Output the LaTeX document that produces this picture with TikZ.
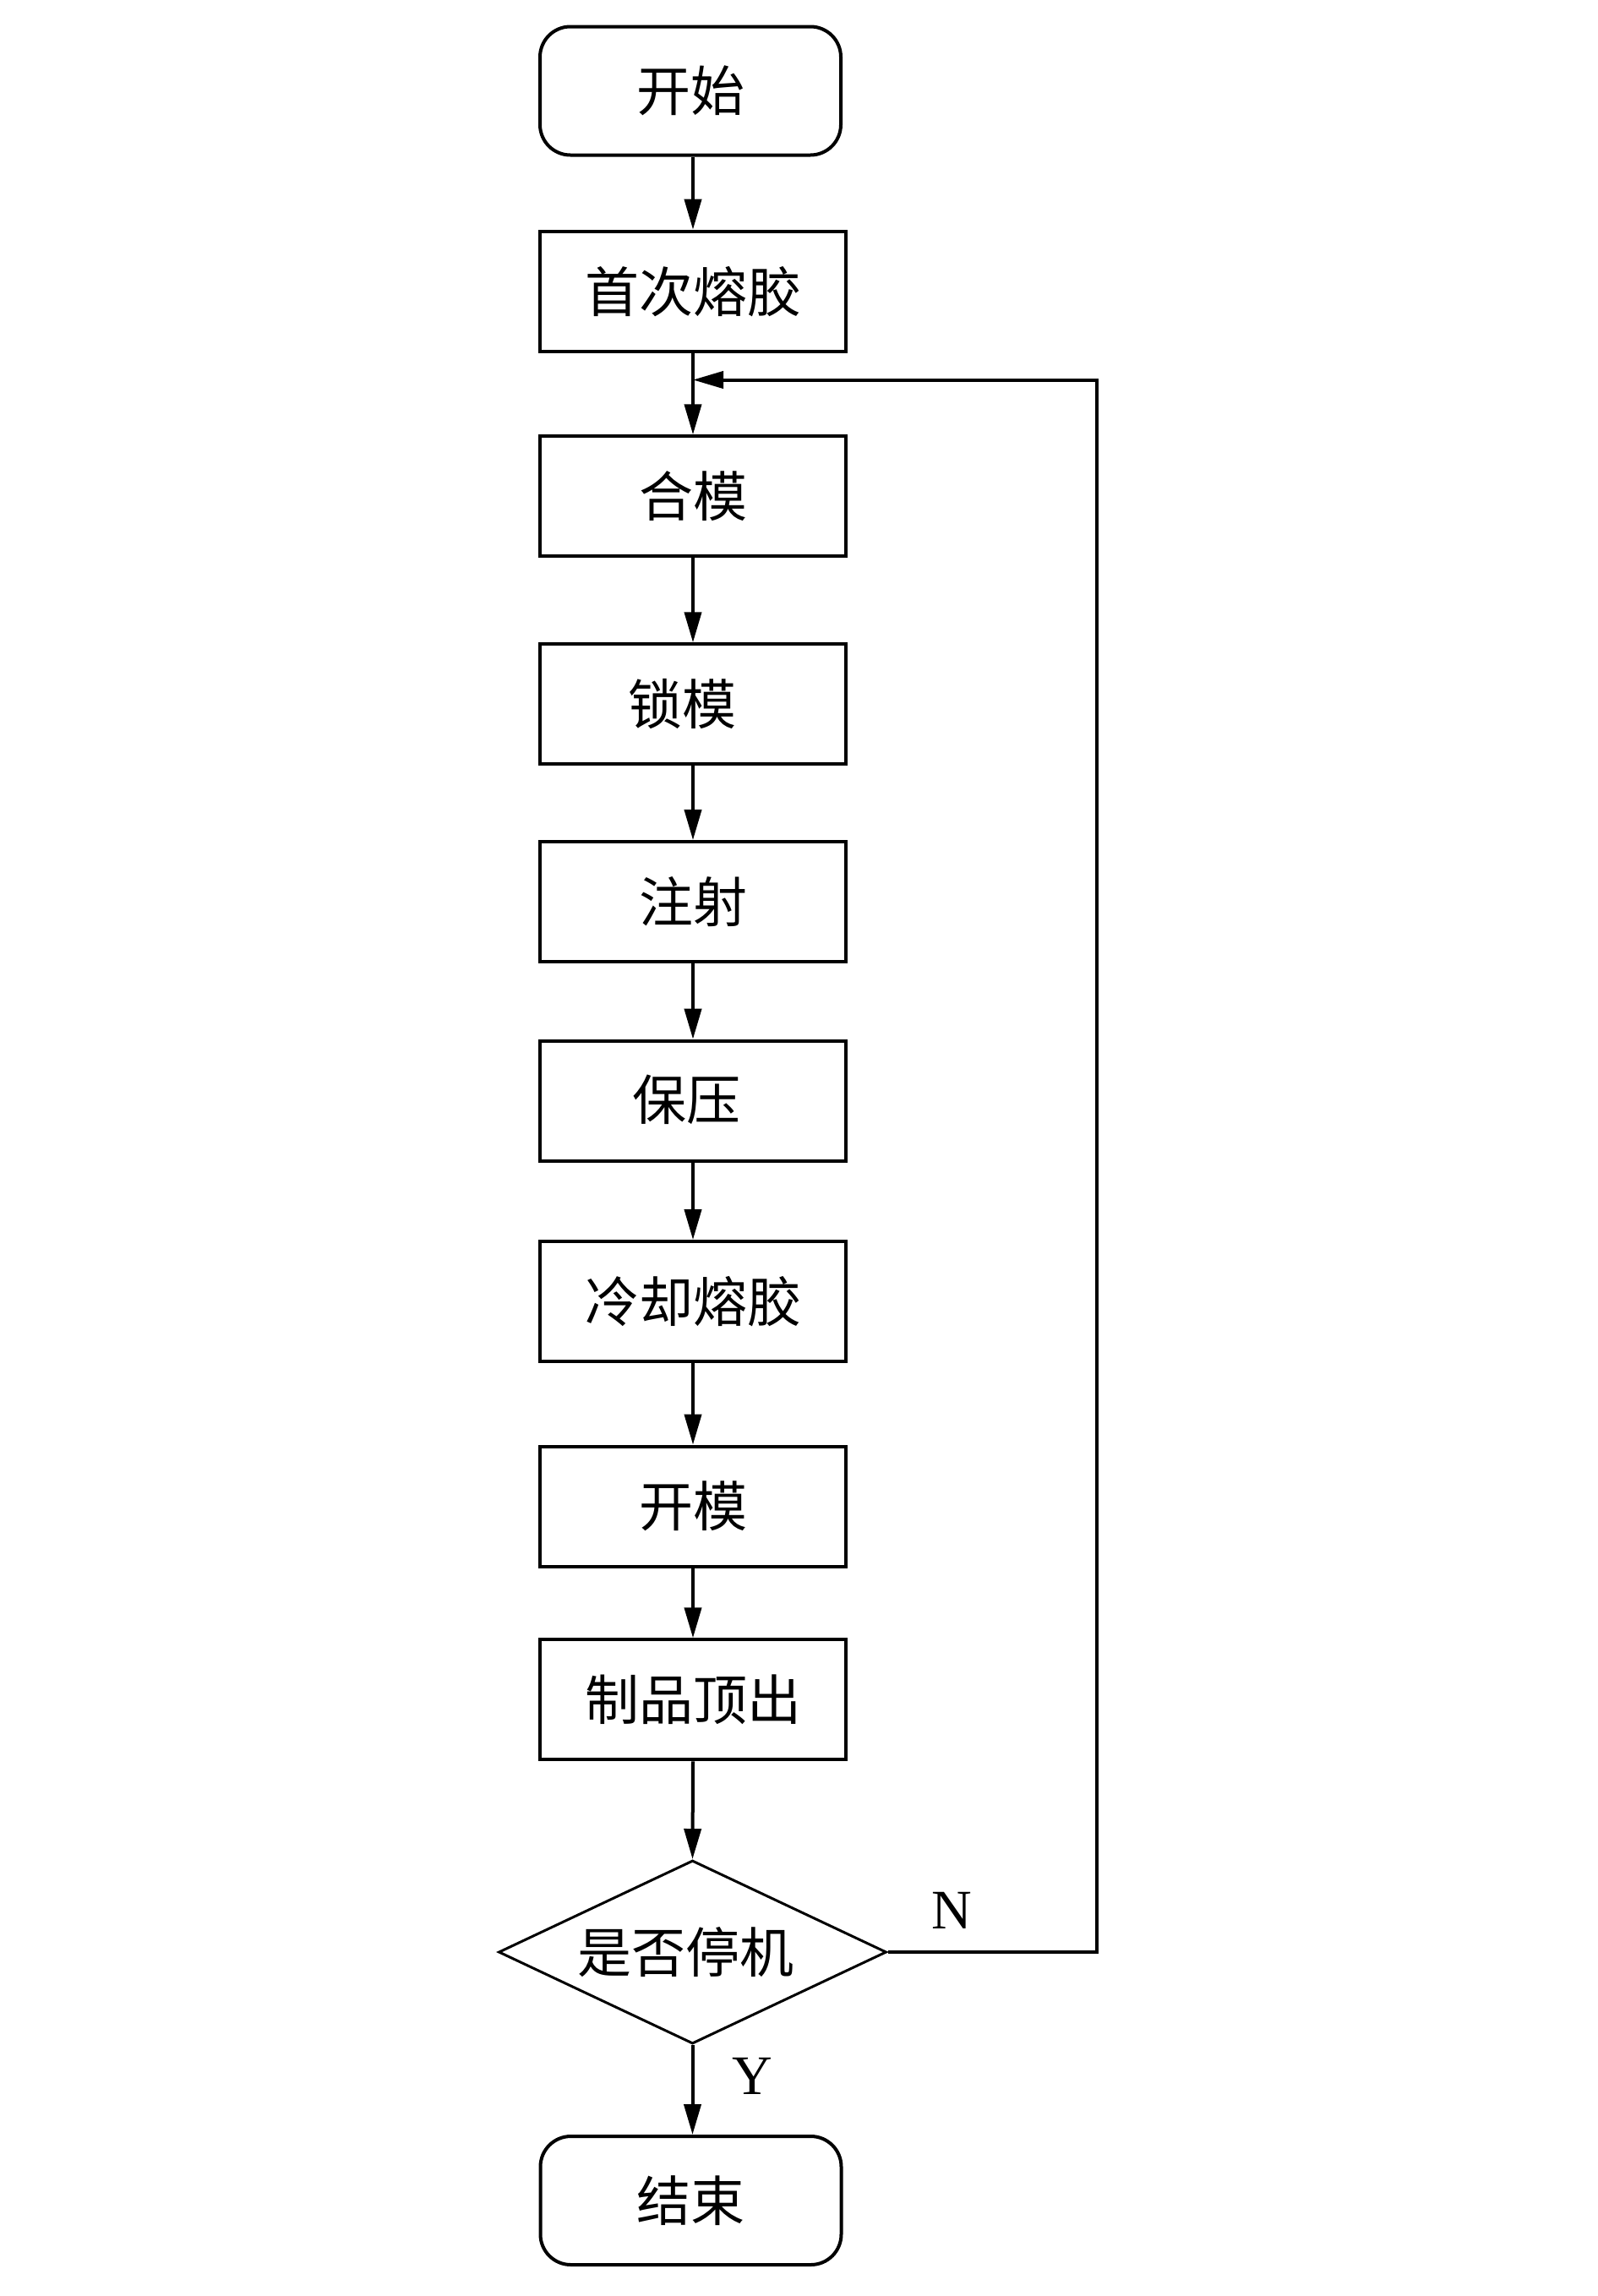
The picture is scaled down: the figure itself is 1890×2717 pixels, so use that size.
\documentclass[tikz,border=0pt]{standalone}
\usepackage{fontspec}
\setmainfont{Liberation Serif}
\newfontfamily\cjk{Noto Sans CJK SC}
\usetikzlibrary{shapes.geometric,arrows.meta}
\tikzset{
  every node/.style={font=\cjk\fontsize{64}{70}\selectfont},
  proc/.style={draw,line width=4pt,rectangle,minimum width=362pt,minimum height=142pt,inner sep=0pt},
  term/.style={draw,line width=4pt,rectangle,rounded corners=36pt,minimum width=356pt,minimum height=152pt,inner sep=0pt},
  decide/.style={draw,line width=3pt,diamond,aspect=2.116,minimum width=459pt,minimum height=217pt,inner sep=0pt},
  conn/.style={line width=4pt,-{Triangle[length=36pt,width=20pt]}},
  lat/.style={font=\fontsize{66}{70}\selectfont}
}
\begin{document}
\begin{tikzpicture}[x=1pt,y=-1pt]
\useasboundingbox (0,0) rectangle (1890,2717);
\node[term] (start) at (817,107.5) {开始};
\node[proc] (p1) at (820,344.7) {首次熔胶};
\node[proc] (p2) at (820,587.3) {合模};
\node[proc] (p3) at (820,833.3) {\hspace*{-26pt}锁模};
\node[proc] (p4) at (820,1067.1) {注射};
\node[proc] (p5) at (820,1302.7) {\hspace*{-16pt}\raisebox{8pt}{保压}};
\node[proc] (p6) at (820,1540.1) {冷却熔胶};
\node[proc] (p7) at (820,1782.6) {开模};
\node[proc] (p8) at (820,2011.3) {制品顶出};
\node[decide] (d) at (819.5,2310) {\hspace*{-16pt}是否停机};
\node[term] (end) at (817.5,2604) {结束};
\coordinate (loopA) at (1298,2310);
\coordinate (loopB) at (1298,449.5);
\coordinate (join) at (820,449.5);
\draw[conn] (start.south -| p1.north) -- (p1.north);
\draw[conn] (p1) -- (p2);
\draw[conn] (p2) -- (p3);
\draw[conn] (p3) -- (p4);
\draw[conn] (p4) -- (p5);
\draw[conn] (p5) -- (p6);
\draw[conn] (p6) -- (p7);
\draw[conn] (p7) -- (p8);
\draw[conn] (p8.south) -- (d.north);
\draw[conn] (d.south) -- (d.south |- end.north);
\draw[conn] (d.east) -- (loopA) -- (loopB) -- (join);
\node[lat] (nlab) at (1126,2261) {N};
\node[lat] (ylab) at (890,2457) {Y};
\end{tikzpicture}
\end{document}
